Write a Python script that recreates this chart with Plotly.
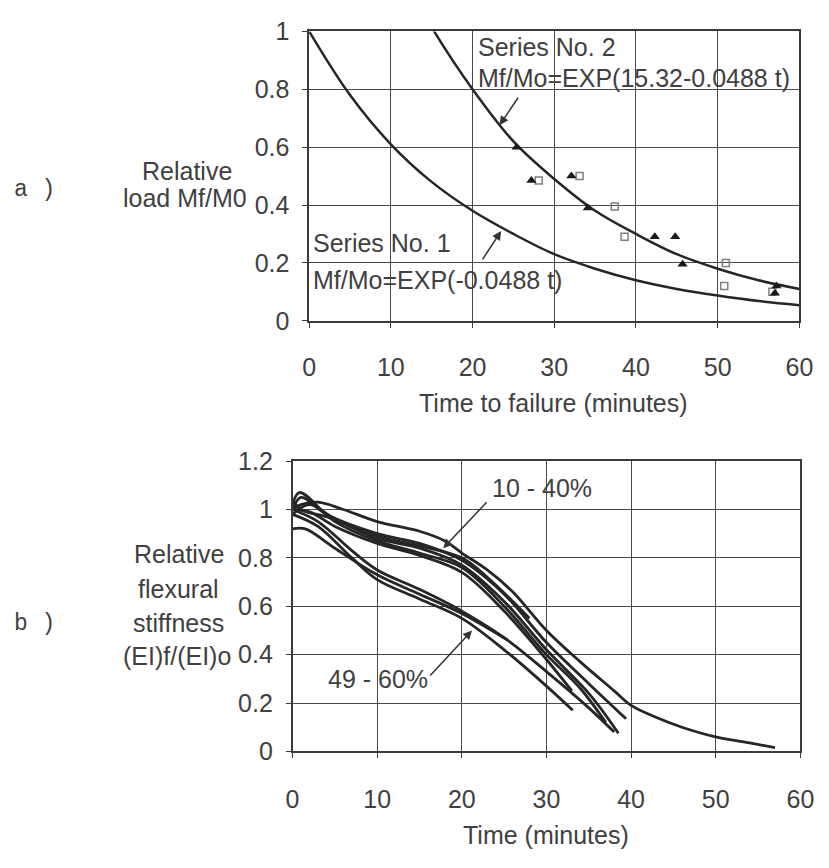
import plotly.graph_objects as go

W, H = 829, 868

# ---------------- data: panel a ----------------
fit1_t = [0, 5, 10, 15, 20, 25, 30, 35, 40, 45, 50, 55, 60]
fit1_v = [1.0, 0.78, 0.61, 0.48, 0.38, 0.30, 0.23, 0.18, 0.14, 0.11, 0.087, 0.068, 0.054]
fit2_t = [14.5, 15.3, 20, 25, 30, 35, 40, 45, 50, 55, 60]
fit2_v = [1.04, 1.0, 0.80, 0.62, 0.49, 0.38, 0.30, 0.23, 0.18, 0.14, 0.11]
tri_t = [25.4, 27.2, 32.1, 34.1, 42.3, 44.8, 45.7, 57.2, 57.0]
tri_v = [0.60, 0.485, 0.50, 0.39, 0.29, 0.29, 0.195, 0.12, 0.095]
sq_t = [28.1, 33.1, 37.4, 38.6, 51.0, 50.8, 56.7]
sq_v = [0.485, 0.50, 0.395, 0.29, 0.20, 0.12, 0.10]
x_ticks = [0, 10, 20, 30, 40, 50, 60]
ya_ticks = [0, 0.2, 0.4, 0.6, 0.8, 1]
ya_labels = ["0", "0.2", "0.4", "0.6", "0.8", "1"]

# ---------------- data: panel b ----------------
curves_b = [
    ([0, 1, 3, 6, 10, 15, 18, 20, 23, 26, 30, 34, 38, 40, 43, 46, 50, 54, 57],
     [1.0, 1.02, 1.03, 1.0, 0.95, 0.91, 0.87, 0.82, 0.75, 0.66, 0.50, 0.37, 0.25, 0.19, 0.14, 0.10, 0.06, 0.035, 0.016]),
    ([0, 1, 4, 10, 15, 20, 25, 30, 35, 39.4],
     [1.0, 1.05, 0.98, 0.90, 0.86, 0.79, 0.65, 0.45, 0.28, 0.135]),
    ([0, 2, 5, 10, 15, 20, 25, 30, 35, 38.5],
     [0.98, 1.02, 0.96, 0.88, 0.84, 0.77, 0.62, 0.42, 0.24, 0.075]),
    ([0, 0.8, 5, 10, 15, 20, 25, 30, 34, 37],
     [1.02, 1.07, 0.95, 0.87, 0.82, 0.76, 0.60, 0.40, 0.26, 0.12]),
    ([0, 2, 5, 10, 15, 20, 25, 30, 33],
     [1.0, 0.99, 0.93, 0.86, 0.81, 0.74, 0.58, 0.38, 0.25]),
    ([0, 1, 4, 10, 15, 20, 23, 28],
     [1.04, 1.0, 0.97, 0.89, 0.85, 0.80, 0.72, 0.55]),
    ([0, 1.5, 5, 10, 15, 20, 25.4],
     [0.92, 0.92, 0.84, 0.73, 0.65, 0.57, 0.46]),
    ([0, 3, 7, 10, 15, 20, 25, 30, 33.1],
     [0.98, 0.93, 0.80, 0.71, 0.63, 0.55, 0.42, 0.27, 0.17]),
    ([0, 3, 7, 10, 15, 20, 25, 30, 35, 38],
     [1.0, 0.95, 0.83, 0.75, 0.67, 0.58, 0.47, 0.33, 0.18, 0.08]),
]
yb_ticks = [0, 0.2, 0.4, 0.6, 0.8, 1, 1.2]
yb_labels = ["0", "0.2", "0.4", "0.6", "0.8", "1", "1.2"]

FONT = "Liberation Sans, Arial, sans-serif"
TXT = "#404040"
LINE = "#262626"
FS = 25

fig = go.Figure()

# panel a
fig.add_trace(go.Scatter(x=fit1_t, y=fit1_v, mode="lines", line=dict(color=LINE, width=2.5, shape="spline"),
                         xaxis="x", yaxis="y", showlegend=False))
fig.add_trace(go.Scatter(x=fit2_t, y=fit2_v, mode="lines", line=dict(color=LINE, width=2.5, shape="spline"),
                         xaxis="x", yaxis="y", showlegend=False))
fig.add_trace(go.Scatter(x=sq_t, y=sq_v, mode="markers",
                         marker=dict(symbol="square-open", size=7, color="#808080", line=dict(width=1.5)),
                         xaxis="x", yaxis="y", showlegend=False))
fig.add_trace(go.Scatter(x=tri_t, y=tri_v, mode="markers",
                         marker=dict(symbol="triangle-up", size=9, color="#1a1a1a"),
                         xaxis="x", yaxis="y", showlegend=False))

# panel b
for t, v in curves_b:
    fig.add_trace(go.Scatter(x=t, y=v, mode="lines", line=dict(color=LINE, width=2.8, shape="spline"),
                             xaxis="x2", yaxis="y2", showlegend=False))

axis_common = dict(showgrid=True, gridcolor="#4a4a4a", gridwidth=1.3, zeroline=False,
                   showline=True, linecolor="#3a3a3a", linewidth=1.5, mirror=True,
                   ticks="outside", ticklen=5, tickcolor="#3a3a3a",
                   tickfont=dict(family=FONT, size=FS, color=TXT))

def px_x(px):
    return px / W

def px_y(py):
    return 1 - py / H

fig.update_layout(
    width=W, height=H, margin=dict(l=0, r=0, t=0, b=0),
    paper_bgcolor="white", plot_bgcolor="white",
    xaxis=dict(domain=[px_x(310), px_x(813)], range=[0, 60], tickvals=x_ticks, anchor="y",
               ticklabelstandoff=18, **axis_common),
    yaxis=dict(domain=[px_y(317), px_y(18)], range=[0, 1], tickvals=ya_ticks, ticktext=ya_labels,
               anchor="x", ticklabelstandoff=8, **axis_common),
    xaxis2=dict(domain=[px_x(293), px_x(814)], range=[0, 60], tickvals=x_ticks, anchor="y2",
                ticklabelstandoff=20, **axis_common),
    yaxis2=dict(domain=[px_y(762), px_y(462)], range=[0, 1.2], tickvals=yb_ticks, ticktext=yb_labels,
                anchor="x2", ticklabelstandoff=8, **axis_common),
)

ann = []
def txt(x, y, s, xref="paper", yref="paper", xanchor="center", size=FS, family=FONT):
    ann.append(dict(x=x, y=y, xref=xref, yref=yref, text=s, showarrow=False, xanchor=xanchor,
                    yanchor="middle", font=dict(family=family, size=size, color=TXT)))

def arrow(x, y, ax, ay, xref, yref):
    ann.append(dict(x=x, y=y, ax=ax, ay=ay, xref=xref, yref=yref, axref=xref, ayref=yref,
                    text="", showarrow=True, arrowhead=2, arrowsize=1.2, arrowwidth=1.5, arrowcolor="#333"))

MONO = "Liberation Mono, Courier New, monospace"
# panel a texts
txt(px_x(28), px_y(182), "a )", family=MONO, size=23)
txt(px_x(185), px_y(162), "Relative")
txt(px_x(183), px_y(190), "load Mf/M0")
txt(px_x(561), px_y(402), "Time to failure (minutes)")
txt(20.4, 0.945, "Series No. 2", "x", "y", "left")
txt(20.4, 0.84, "Mf/Mo=EXP(15.32-0.0488 t)", "x", "y", "left")
txt(0.25, 0.268, "Series No. 1", "x", "y", "left")
txt(0.25, 0.14, "Mf/Mo=EXP(-0.0488 t)", "x", "y", "left")
arrow(23.3, 0.676, 25.7, 0.776, "x", "y")
arrow(23.5, 0.31, 21.1, 0.207, "x", "y")

# panel b texts
txt(px_x(28), px_y(630), "b )", family=MONO, size=23)
txt(px_x(176), px_y(558), "Relative")
txt(px_x(176), px_y(594), "flexural")
txt(px_x(176), px_y(629), "stiffness")
txt(px_x(174), px_y(663), "(EI)f/(EI)o")
txt(px_x(553), px_y(848), "Time (minutes)")
txt(23.3, 1.088, "10 - 40%", "x2", "y2", "left")
txt(3.9, 0.30, "49 - 60%", "x2", "y2", "left")
arrow(17.8, 0.84, 23.1, 1.036, "x2", "y2")
arrow(21.2, 0.50, 16.1, 0.308, "x2", "y2")

fig.update_layout(annotations=ann)
fig.write_html("out.html")
